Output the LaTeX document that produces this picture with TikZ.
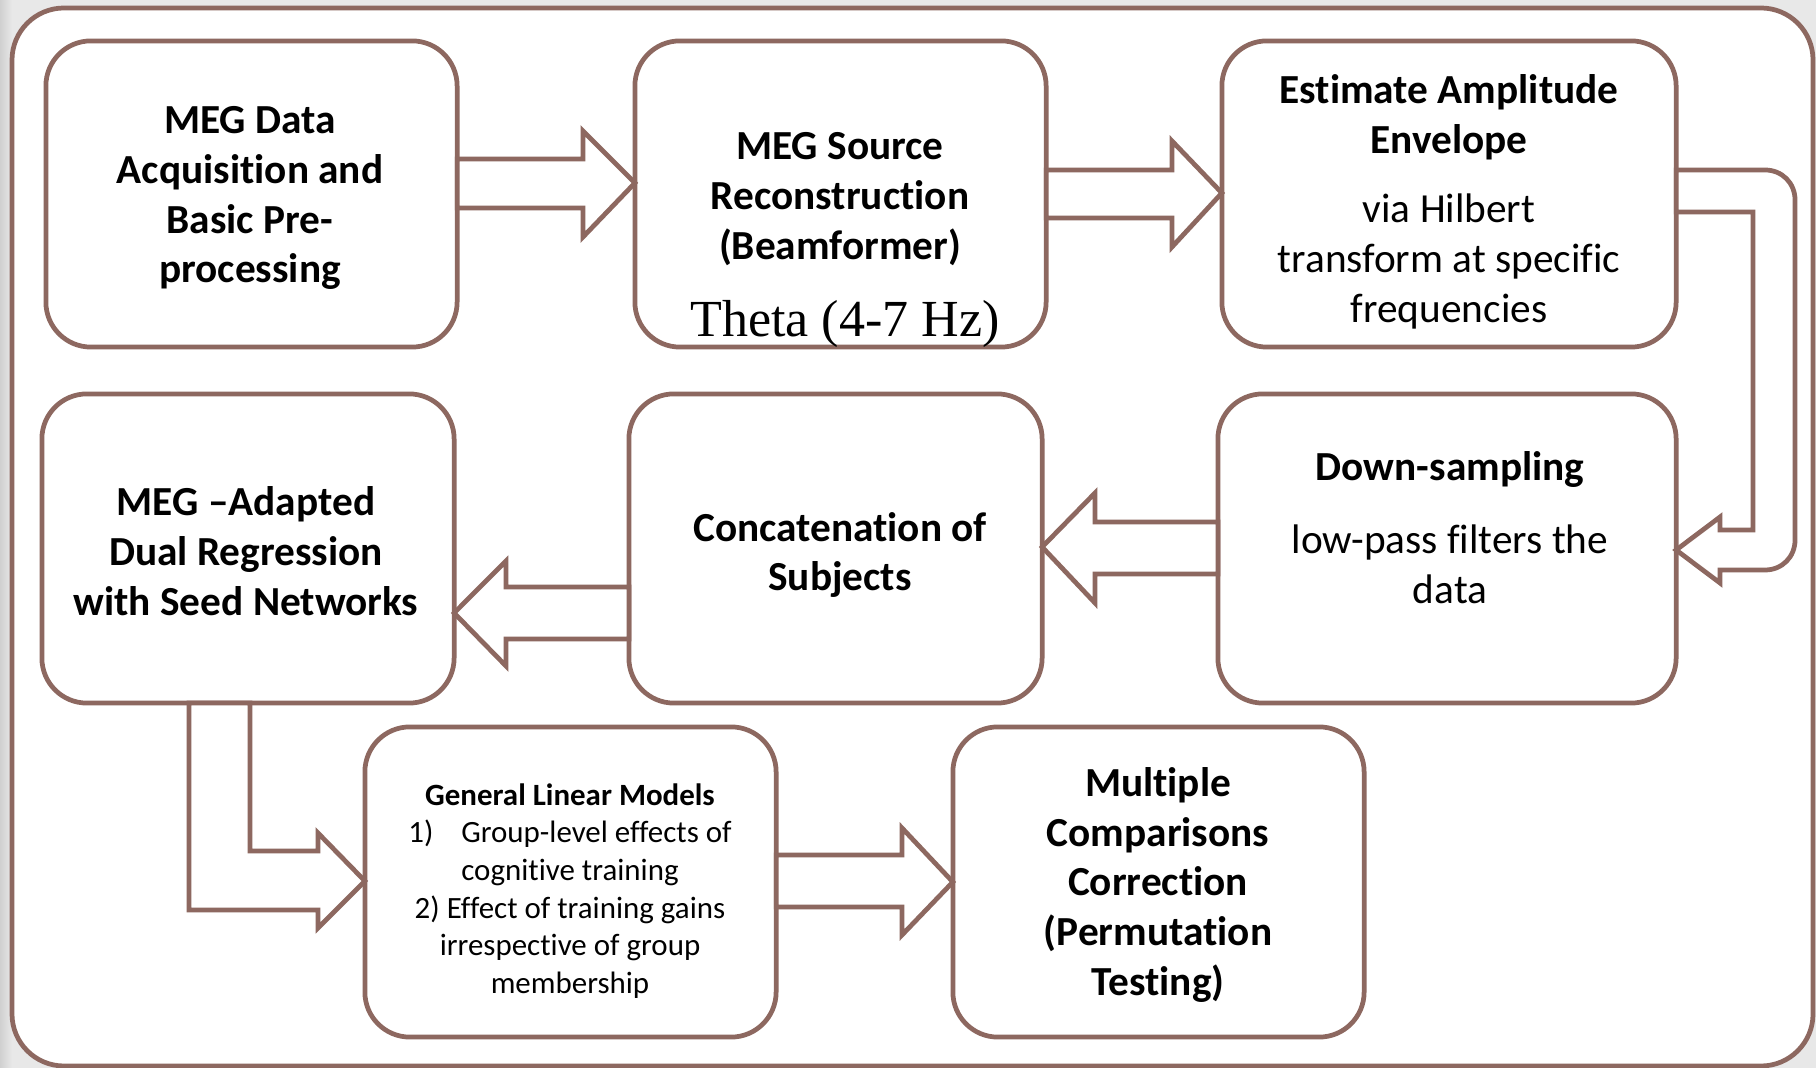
\documentclass[tikz,border=0pt]{standalone}
\usepackage{fontspec}
\setmainfont{Carlito}[RawFeature=-liga]
\newfontfamily\serifnote{Liberation Serif}
\usetikzlibrary{calc}
\definecolor{brn}{RGB}{141,104,96}
\definecolor{bgG}{RGB}{232,232,232}
\definecolor{bgD}{RGB}{208,208,208}
\tikzset{
  box/.style={draw=brn, line width=1.35pt, rounded corners=0.45cm, fill=white,
              inner sep=0pt, outer sep=0pt},
  blk/.style={draw=brn, line width=1.35pt, fill=white, line join=miter},
  ttl/.style={font=\fontsize{11.75}{14.2}\selectfont\bfseries, align=center, inner sep=0pt},
  txt/.style={font=\fontsize{11.75}{14.2}\selectfont, align=center, inner sep=0pt},
  smalltxt/.style={font=\fontsize{8.8}{10.7}\selectfont, align=center, inner sep=0pt},
}
\begin{document}
\begin{tikzpicture}[x=0.01cm, y=-0.01cm]
\useasboundingbox (0,0) rectangle (1816,1068);

% surrounding backdrop and outer frame
\fill[bgG] (0,0) rectangle (1816,1068);
\shade[left color=bgD, right color=bgG] (0,0) rectangle (12,1068);
\draw[draw=brn, line width=1.35pt, fill=white, rounded corners=0.52cm]
  (12,8) rectangle (1813,1066);

% process boxes
\node[box, minimum width=4.11cm, minimum height=3.06cm] (b1) at (251.5,194) {};
\node[box, minimum width=4.11cm, minimum height=3.06cm] (b2) at (840.5,194) {};
\node[box, minimum width=4.54cm, minimum height=3.06cm] (b3) at (1449,194) {};
\node[box, minimum width=4.58cm, minimum height=3.09cm] (b4) at (1447,548.5) {};
\node[box, minimum width=4.13cm, minimum height=3.09cm] (b5) at (835.5,548.5) {};
\node[box, minimum width=4.12cm, minimum height=3.09cm] (b6) at (248,548.5) {};
\node[box, minimum width=4.11cm, minimum height=3.10cm] (b7) at (570.5,882) {};
\node[box, minimum width=4.11cm, minimum height=3.10cm] (b8) at (1158.5,882) {};

% box texts
\node[ttl] (t1) at (250,198) {MEG Data\\Acquisition and\\Basic Pre-\\processing};
\node[ttl] (t2) at (840,199) {MEG Source\\Reconstruction\\(Beamformer)};
\node[font=\serifnote\fontsize{14.8}{17}\selectfont, inner sep=0pt] (t2b) at (845,324) {Theta (4-7 Hz)};
\node[txt] (t3) at (1449,202) {\textbf{Estimate Amplitude}\\\textbf{Envelope}\\[5.4pt]via Hilbert\\transform at specific\\frequencies};
\node[txt] (t4) at (1450,528) {\textbf{Down-sampling}\\[6.5pt]low-pass filters the\\data};
\node[ttl] (t5) at (840,555) {Concatenation of\\Subjects};
\node[ttl] (t6) at (246,551) {MEG –Adapted\\Dual Regression\\with Seed Networks};
\node[smalltxt] (t7) at (570,891) {\textbf{General Linear Models}\\1)\hspace{0.9em}Group-level effects of\\cognitive training\\2) Effect of training gains\\irrespective of group\\membership};
\node[ttl] (t8) at (1158,885) {Multiple\\Comparisons\\Correction\\(Permutation\\Testing)};

% block arrows between the stages
\draw[blk] (b1.east |- 0,159) -- (583,159) -- (583,131) -- (b2.west |- 0,183)
  -- (583,237) -- (583,208) -- (b1.east |- 0,208) -- cycle;
\draw[blk] (b2.east |- 0,170) -- (1172,170) -- (1172,141) -- (b3.west |- 0,193)
  -- (1172,247) -- (1172,218) -- (b2.east |- 0,218) -- cycle;
\draw[blk] (b3.east |- 0,170) -- (1765,170) .. controls (1782,170) and (1795,183) .. (1795,200)
  -- (1795,540) .. controls (1795,557) and (1782,570) .. (1765,570)
  -- (1720,570) -- (1720,583) -- (b4.east |- 0,550) -- (1720,517) -- (1720,530)
  -- (1753,530) -- (1753,212) -- (b3.east |- 0,212) -- cycle;
\draw[blk] (b4.west |- 0,522) -- (1095,522) -- (1095,493) -- (b5.east |- 0,547)
  -- (1095,603) -- (1095,574) -- (b4.west |- 0,574) -- cycle;
\draw[blk] (b5.west |- 0,587) -- (506,587) -- (506,561) -- (b6.east |- 0,613)
  -- (506,666) -- (506,639) -- (b5.west |- 0,639) -- cycle;
\draw[blk] (189,0 |- b6.south) -- (189,910) -- (318,910) -- (318,928) -- (b7.west |- 0,881)
  -- (318,833) -- (318,851) -- (250,851) -- (250,0 |- b6.south) -- cycle;
\draw[blk] (b7.east |- 0,855) -- (902,855) -- (902,828) -- (b8.west |- 0,882)
  -- (902,935) -- (902,907) -- (b7.east |- 0,907) -- cycle;
\end{tikzpicture}
\end{document}
